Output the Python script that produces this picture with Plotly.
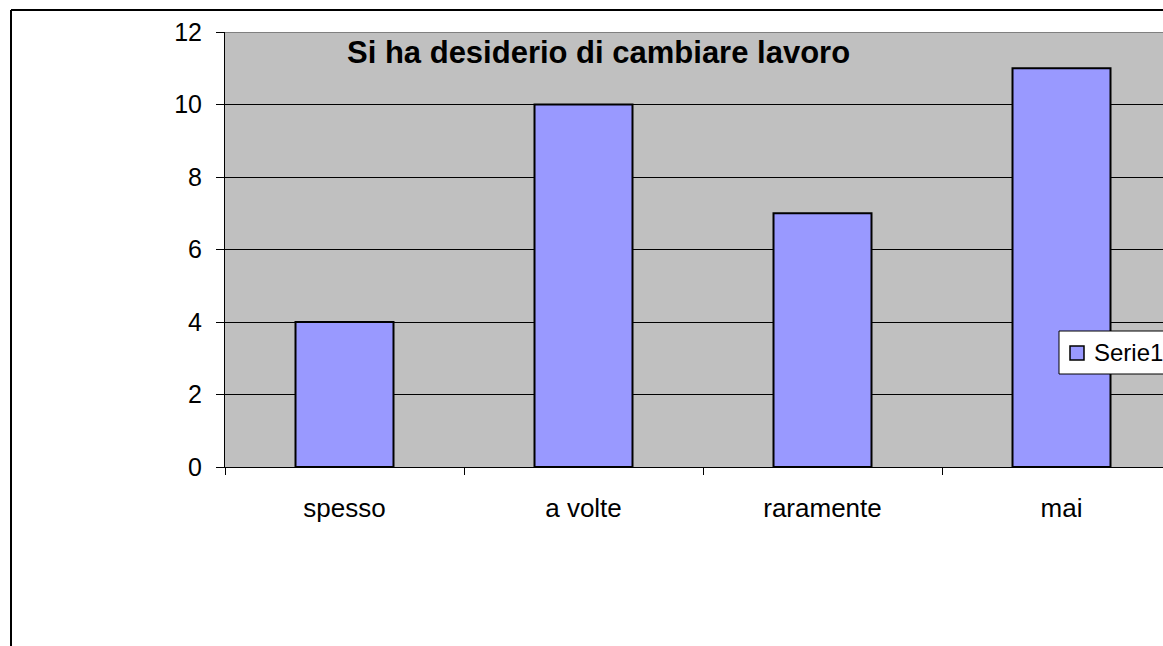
import plotly.graph_objects as go

categories = ["spesso", "a volte", "raramente", "mai"]
values = [4, 10, 7, 11]
series_name = "Serie1"
title_text = "Si ha desiderio di cambiare lavoro"
y_ticks = [0, 2, 4, 6, 8, 10, 12]

W, H = 1163, 646
PL, PT, PB = 225, 32, 467          # page pixel coords of plot area
ml, mt = PL, PT
mb = H - PB
plot_w = W - ml
plot_h = H - mt - mb

def xp(px):
    return (px - PL) / plot_w

def yp(py):
    return (PB - py) / plot_h

fig = go.Figure()
fig.add_trace(go.Bar(
    x=categories, y=values, name=series_name, width=0.41,
    marker=dict(color="#9999FF", line=dict(color="black", width=2)),
    showlegend=False,
))

font = "Liberation Sans, Arial, sans-serif"
cat_px = 239
x_right = -0.5 + plot_w / cat_px

fig.update_layout(
    width=W, height=H,
    margin=dict(l=ml, r=0, t=mt, b=mb, pad=0),
    paper_bgcolor="white", plot_bgcolor="#C0C0C0",
    font=dict(family=font, size=26, color="black"),
    showlegend=False,
    xaxis=dict(
        range=[-0.5, x_right], showgrid=False,
        showline=True, linecolor="black", linewidth=1,
        ticks="outside", ticklen=7, tickcolor="black",
        tickson="boundaries", ticklabelstandoff=18,
        tickfont=dict(family=font, size=26),
    ),
    yaxis=dict(
        range=[0, 12], tickvals=y_ticks,
        showgrid=True, gridcolor="black", gridwidth=1,
        showline=True, linecolor="black", linewidth=1,
        ticks="outside", ticklen=8, tickcolor="black",
        tickfont=dict(family=font, size=25), zeroline=False,
        ticklabelstandoff=9,
    ),
    annotations=[
        dict(text="<b>" + title_text + "</b>", xref="paper", yref="paper",
             x=xp(598), y=yp(53), xanchor="center", yanchor="middle",
             showarrow=False, font=dict(family=font, size=31, color="black")),
        dict(text=series_name, xref="paper", yref="paper",
             x=xp(1092), y=yp(353), xanchor="left", yanchor="middle",
             showarrow=False, font=dict(family=font, size=24, color="black")),
    ],
    shapes=[
        dict(type="line", xref="paper", yref="y", x0=0, x1=1, y0=12, y1=12,
             line=dict(color="#808080", width=2)),
        # chart area border (top & left)
        dict(type="line", xref="paper", yref="paper",
             x0=xp(11), x1=1.02, y0=yp(10), y1=yp(10),
             line=dict(color="black", width=2)),
        dict(type="line", xref="paper", yref="paper",
             x0=xp(11), x1=xp(11), y0=yp(10), y1=yp(660),
             line=dict(color="black", width=2)),
        # legend box
        dict(type="rect", xref="paper", yref="paper",
             x0=xp(1059), x1=xp(1175), y0=yp(374), y1=yp(331),
             fillcolor="white", line=dict(color="black", width=1)),
        dict(type="rect", xref="paper", yref="paper",
             x0=xp(1070), x1=xp(1084), y0=yp(360), y1=yp(346),
             fillcolor="#9999FF", line=dict(color="black", width=1.5)),
    ],
)

fig.write_html(
    "out.html",
    config={"displayModeBar": False},
    post_script="document.body.style.margin='0';document.body.style.overflow='hidden';",
)
